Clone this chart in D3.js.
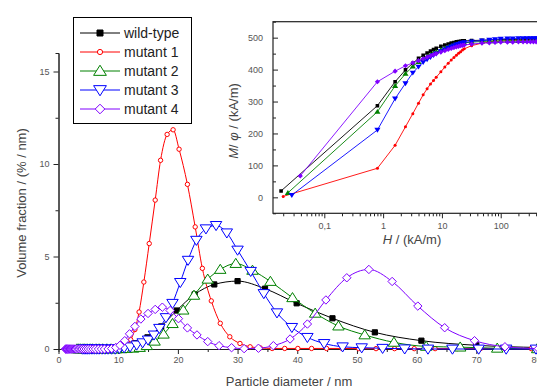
<!DOCTYPE html>
<html>
<head>
<meta charset="utf-8">
<script src="https://cdn.jsdelivr.net/npm/d3@7"></script>
<style>
  body { margin: 0; background: #fff; }
  svg { display: block; font-family: "Liberation Sans", Arial, sans-serif; }
</style>
</head>
<body>
<div id="chart"></div>
<script>
// size distributions, [diameter nm, volume fraction %/nm]
let wildType = [[2.1,0],[2.4,0],[2.7,0],[3.2,0],[3.6,0],[4.2,0],[4.8,0],[5.5,0],[6.3,0],[7.3,0],[8.4,0.01],[9.7,0.04],[11.1,0.12],[12.8,0.31],[14.9,0.63],[17.2,1.22],[19.8,2.08],[22.8,2.95],[26.1,3.49],[30.0,3.67],[34.6,3.26],[39.9,2.47],[45.9,1.66],[53.0,0.9],[60.8,0.45],[70.0,0.2],[80.5,0.08]]
let mutant1 = [[2.0,0],[2.5,0],[3.0,0],[3.5,0],[4.0,0],[4.6,0],[5.2,0],[5.8,0],[6.5,0],[7.3,0],[8.1,0],[8.6,0],[9.1,0],[9.6,0.01],[10.2,0.03],[10.8,0.08],[11.4,0.2],[12.1,0.5],[12.8,1.05],[13.5,2.0],[14.3,3.62],[15.2,5.7],[16.2,8.05],[17.1,10.2],[18.2,11.6],[19.2,11.85],[20.2,10.8],[21.6,8.9],[22.9,6.6],[24.1,4.36],[25.6,2.6],[27.1,1.39],[28.7,0.66],[30.4,0.3],[32.1,0.12],[33.8,0.06],[35.8,0.03],[37.9,0.03],[40.1,0.03],[42.4,0.03],[44.9,0.03],[47.5,0.03],[50.3,0.02],[53.2,0.02],[56.3,0.02],[59.6,0.02],[63.1,0.02],[66.8,0.02],[70.7,0.02],[74.8,0.02],[79.2,0.02]]
let mutant2 = [[3.1,0],[3.4,0],[3.7,0],[4.1,0],[4.4,0],[4.8,0],[5.3,0],[5.7,0],[6.3,0],[6.8,0],[7.4,0],[8.1,0],[8.8,0],[9.6,0],[10.5,0.01],[11.4,0.02],[12.5,0.04],[13.6,0.08],[14.8,0.18],[16.1,0.42],[17.6,0.8],[19.1,1.37],[20.9,2.1],[22.7,2.9],[25.0,3.77],[27.1,4.3],[29.7,4.62],[32.5,4.25],[35.5,3.65],[39.2,2.77],[43.0,1.93],[46.9,1.24],[51.3,0.76],[56.2,0.36],[61.6,0.14],[67.3,0.1],[73.5,0.04],[80.2,0.01]]
let mutant3 = [[4.0,0],[4.3,0],[4.6,0],[4.9,0],[5.2,0],[5.6,0],[6.0,0],[6.4,0],[6.8,0],[7.3,0],[7.8,0],[8.3,0],[8.9,0],[9.5,0],[10.2,0.03],[11.0,0.07],[12.0,0.12],[13.1,0.22],[14.1,0.34],[15.0,0.49],[16.0,0.76],[16.9,1.12],[18.0,1.7],[19.1,2.47],[20.4,3.6],[21.7,4.8],[23.1,5.88],[24.7,6.5],[26.4,6.68],[28.2,6.28],[30.0,5.35],[32.2,4.2],[34.4,3.0],[36.6,1.96],[39.1,1.17],[41.7,0.63],[44.5,0.3],[47.6,0.12],[50.8,0.07],[54.3,0.04],[58.0,0.01],[61.9,0],[66.0,0],[70.4,0],[75.0,0],[80.0,0]]
let mutant4 = [[1.18,0],[1.27,0],[1.36,0],[1.46,0],[1.57,0],[1.69,0],[1.82,0],[1.95,0],[2.1,0],[2.26,0],[2.43,0],[2.6,0],[2.8,0],[3.0,0],[3.25,0],[3.5,0],[3.75,0],[4.0,0],[4.3,0],[4.65,0],[5.0,0],[5.4,0],[5.8,0],[6.2,0],[6.7,0],[7.2,0],[7.7,0],[8.3,0],[8.9,0.02],[9.6,0.08],[10.3,0.2],[11.1,0.45],[11.9,0.82],[12.8,1.22],[13.8,1.62],[15.0,1.92],[16.2,2.14],[17.4,2.26],[18.7,2.08],[20.1,1.64],[21.6,1.14],[23.2,0.76],[25.0,0.4],[26.9,0.18],[29.0,0.07],[31.1,0.02],[33.5,0.04],[36.0,0.18],[38.8,0.54],[41.7,1.35],[44.8,2.65],[48.3,3.85],[52.0,4.3],[55.9,3.65],[60.2,2.32],[64.7,1.15],[69.7,0.45],[74.8,0.12],[80.4,0.02]]

let seriesNames = ['wild-type', 'mutant 1', 'mutant 2', 'mutant 3', 'mutant 4']
let seriesColors = ['#000000', '#ff0000', '#008000', '#0000ff', '#8000ff']
let seriesShapes = ['square', 'circle', 'triangle', 'triangleDown', 'diamond']

let xTicks = [0, 10, 20, 30, 40, 50, 60, 70, 80]
let yTicks = [0, 5, 10, 15]

// inset magnetisation curves: shared field grid H (kA/m) + first low-field point per sample
let insetH = [0.8, 1.6, 2.4, 3.2, 4.0, 4.8, 5.6, 6.4, 7.2, 8.0, 9.6, 11.2, 12.8, 14.4, 16, 17.6, 19.2, 20.8, 22.4, 24, 32, 48, 64, 80, 100, 130, 160, 200, 240, 280, 320, 360, 400, 440]
let insetFirstH = [0.0184, 0.02, 0.024, 0.028, 0.039]
let insetFirstM = [20, 3, 14, 7, 67]
let insetWildType = [287, 362, 399, 420, 435, 445, 452, 458, 463, 467, 473, 477, 480, 483, 485, 487, 488, 489, 490, 490, 491, 492, 493, 493, 494, 494, 494, 495, 495, 495, 495, 495, 495, 495]
let insetMutant1 = [91, 163, 221, 262, 295, 321, 340, 355, 366, 376, 393, 408, 420, 430, 438, 445, 451, 456, 461, 465, 475, 483, 486, 488, 489, 490, 490, 490, 491, 491, 491, 491, 491, 491]
let insetMutant2 = [268, 349, 387, 410, 424, 434, 441, 447, 452, 456, 462, 467, 471, 474, 477, 479, 481, 482, 483, 484, 486, 488, 489, 489, 490, 490, 490, 490, 490, 490, 490, 490, 490, 490]
let insetMutant3 = [211, 309, 357, 390, 409, 423, 432, 439, 445, 450, 457, 463, 468, 472, 475, 478, 480, 482, 484, 485, 488, 491, 493, 495, 496, 497, 497, 498, 498, 498, 498, 498, 498, 498]
let insetMutant4 = [362, 395, 412, 421, 428, 434, 439, 443, 447, 450, 455, 459, 463, 466, 469, 471, 473, 475, 476, 477, 480, 483, 484, 485, 486, 486, 486, 487, 487, 487, 487, 487, 487, 487]
let insetXTicks = [0.1, 1, 10, 100]
let insetXLabels = ['0,1', '1', '10', '100']
let insetYTicks = [0, 100, 200, 300, 400, 500]

let width = 537, height = 390

let svg = d3.select('#chart').append('svg')
  .attr('width', width)
  .attr('height', height)
  .style('background-color', '#FFFFFF')

function shapePath(shape, r) {
  if (shape == 'square') return `M${-r},${-r}h${2*r}v${2*r}h${-2*r}Z`
  if (shape == 'circle') return `M${-r},0a${r},${r} 0 1,0 ${2*r},0a${r},${r} 0 1,0 ${-2*r},0Z`
  if (shape == 'triangle') return `M0,${-r}L${r*1.1},${r*0.75}L${-r*1.1},${r*0.75}Z`
  if (shape == 'triangleDown') return `M0,${r}L${r*1.1},${-r*0.75}L${-r*1.1},${-r*0.75}Z`
  return `M0,${-r}L${r},0L0,${r}L${-r},0Z`
}
let mainSize = [2.6, 2.2, 5.2, 5.2, 4.2]
let mainFill = [true, false, false, false, false]

// ---------- main chart ----------
let x = d3.scaleLinear().domain([0, 80]).range([58.5, 536])
let y = d3.scaleLinear().domain([0, 16]).range([349, 53])

svg.append('defs').append('clipPath').attr('id', 'mainclip')
  .append('rect').attr('x', 40).attr('y', 40).attr('width', x(80) - 40 + 4).attr('height', 320)

let gx = svg.append('g').attr('transform', 'translate(0,' + y(0) + ')')
  .call(d3.axisBottom(x).tickValues(xTicks).tickSize(5).tickSizeOuter(0).tickPadding(3))
gx.append('g').call(d3.axisBottom(x).tickValues(d3.range(5, 80, 10)).tickSize(3).tickFormat(''))
let gy = svg.append('g').attr('transform', 'translate(' + x(0) + ',0)')
  .call(d3.axisLeft(y).tickValues(yTicks).tickSize(5).tickSizeOuter(0).tickPadding(4))
gy.append('g').call(d3.axisLeft(y).tickValues([2.5, 7.5, 12.5]).tickSize(3).tickFormat(''))

svg.selectAll('.domain').attr('stroke', '#222')
svg.selectAll('.tick line').attr('stroke', '#222')
svg.selectAll('.tick text').attr('fill', '#555').style('font-size', '9px')

let line = d3.line().curve(d3.curveMonotoneX)
  .x(function(d) { return x(d[0]) })
  .y(function(d) { return y(d[1]) })

let mainData = [wildType, mutant1, mutant2, mutant3, mutant4]
let plot = svg.append('g').attr('clip-path', 'url(#mainclip)')
mainData.forEach(function(data, i) {
  plot.append('path').attr('d', line(data))
    .attr('fill', 'none').attr('stroke', seriesColors[i]).attr('stroke-width', 1)
  plot.selectAll('.m' + i).data(data).enter().append('path')
    .attr('transform', function(d) { return 'translate(' + x(d[0]) + ',' + y(d[1]) + ')' })
    .attr('d', shapePath(seriesShapes[i], mainSize[i]))
    .attr('fill', mainFill[i] ? seriesColors[i] : '#fff')
    .attr('stroke', seriesColors[i]).attr('stroke-width', 1)
})

svg.append('text')
  .attr('transform', 'translate(26,203) rotate(-90)')
  .attr('text-anchor', 'middle').attr('fill', '#444').style('font-size', '13px')
  .text('Volume fraction  /  (% / nm)')
svg.append('text')
  .attr('x', 289).attr('y', 386)
  .attr('text-anchor', 'middle').attr('fill', '#444').style('font-size', '13px')
  .text('Particle diameter / nm')

// legend
let legend = svg.append('g')
legend.append('rect').attr('x', 73.5).attr('y', 17.5).attr('width', 118).attr('height', 106)
  .attr('fill', '#fff').attr('stroke', '#000')
seriesNames.forEach(function(name, i) {
  let ly = 33 + i * 19
  legend.append('line').attr('x1', 80).attr('x2', 120).attr('y1', ly).attr('y2', ly)
    .attr('stroke', seriesColors[i])
  legend.append('path').attr('transform', 'translate(100,' + ly + ')')
    .attr('d', shapePath(seriesShapes[i], mainSize[i] + (i > 1 ? 0.6 : 0.4)))
    .attr('fill', mainFill[i] ? seriesColors[i] : '#fff').attr('stroke', seriesColors[i])
  legend.append('text').attr('x', 124).attr('y', ly + 5)
    .attr('fill', '#222').style('font-size', '14px').text(name)
})

// ---------- inset ----------
let ix = d3.scaleLog().domain([0.01341, 414]).range([273, 537])
let iy = d3.scaleLinear().domain([-50, 550]).range([213.3, 21.7])

let inset = svg.append('g')
inset.append('rect').attr('x', ix.range()[0]).attr('y', iy(550)).attr('width', 300).attr('height', iy(-50) - iy(550))
  .attr('fill', '#fff').attr('stroke', '#222').attr('stroke-width', 1.2)

let minorH = []
;[0.01, 0.1, 1, 10, 100].forEach(function(dec) {
  for (let k = 2; k <= 9; k++) minorH.push(dec * k)
})
minorH = minorH.filter(function(h) { return h > 0.01341 && h < 414 })

let igx = inset.append('g').attr('transform', 'translate(0,' + iy(-50) + ')')
igx.call(d3.axisBottom(ix).tickValues(insetXTicks).tickSize(5).tickSizeOuter(0).tickPadding(4)
  .tickFormat(function(d, i) { return insetXLabels[i] }))
igx.append('g').call(d3.axisBottom(ix).tickValues(minorH).tickSize(3).tickFormat(''))
let igy = inset.append('g').attr('transform', 'translate(' + ix.range()[0] + ',0)')
igy.call(d3.axisLeft(iy).tickValues(insetYTicks).tickSize(-5).tickSizeOuter(0).tickPadding(10))
igy.append('g').call(d3.axisLeft(iy).tickValues([-50, 50, 150, 250, 350, 450, 550]).tickSize(-3).tickFormat(''))
inset.selectAll('.domain').remove()
inset.selectAll('.tick line').attr('stroke', '#222')
inset.selectAll('.tick text').attr('fill', '#555').style('font-size', '9px')

svg.append('defs').append('clipPath').attr('id', 'insetclip')
  .append('rect').attr('x', ix.range()[0]).attr('y', iy(550)).attr('width', 300).attr('height', iy(-50) - iy(550))

let insetData = [insetWildType, insetMutant1, insetMutant2, insetMutant3, insetMutant4]
let insetSize = [1.8, 1.5, 2.8, 2.8, 2.6]
let ilines = inset.append('g').attr('clip-path', 'url(#insetclip)')
let iline = d3.line().x(function(d) { return ix(d[0]) }).y(function(d) { return iy(d[1]) })
insetData.forEach(function(m, i) {
  let pts = [[insetFirstH[i], insetFirstM[i]]].concat(insetH.map(function(h, j) { return [h, m[j]] }))
  ilines.append('path').attr('d', iline(pts))
    .attr('fill', 'none').attr('stroke', seriesColors[i]).attr('stroke-width', 0.9)
  ilines.selectAll('.im' + i).data(pts).enter().append('path')
    .attr('transform', function(d) { return 'translate(' + ix(d[0]) + ',' + iy(d[1]) + ')' })
    .attr('d', shapePath(seriesShapes[i], insetSize[i]))
    .attr('fill', seriesColors[i]).attr('stroke', 'none')
})

let ylab = svg.append('text')
  .attr('transform', 'translate(238,121) rotate(-90)')
  .attr('text-anchor', 'middle').attr('fill', '#444').style('font-size', '13px')
ylab.append('tspan').style('font-style', 'italic').text('M')
ylab.append('tspan').text('/ ')
ylab.append('tspan').style('font-style', 'italic').text('φ')
ylab.append('tspan').text(' / (kA/m)')

let xlab = svg.append('text')
  .attr('x', 412).attr('y', 244)
  .attr('text-anchor', 'middle').attr('fill', '#444').style('font-size', '13px')
xlab.append('tspan').style('font-style', 'italic').text('H')
xlab.append('tspan').text(' / (kA/m)')
</script>
</body>
</html>
